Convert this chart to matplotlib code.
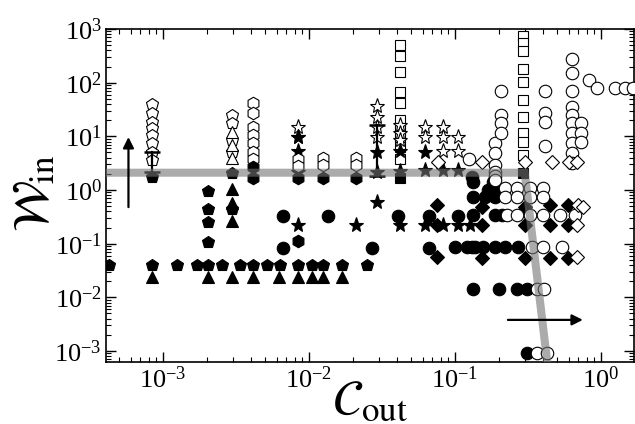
import matplotlib
matplotlib.use('Agg')
import matplotlib.pyplot as plt

plt.rcParams['font.family'] = 'serif'
plt.rcParams['font.serif'] = ['Liberation Serif', 'DejaVu Serif']
plt.rcParams['mathtext.fontset'] = 'stix'

# ---------------- data ----------------
# open pentagons
open_pent_x = [8.4e-4]*8 + [2.97e-3]*4
open_pent_y = [39.8, 27, 18.4, 14.2, 10.5, 7.5, 5.1, 3.6, 24.8, 17.6, 8.5, 5.1]
# filled pentagons
fill_pent_x = [8.4e-4, 2.03e-3, 2.03e-3, 2.03e-3, 2.03e-3, 2.97e-3, 2.97e-3,
               4.27e-4, 8.4e-4, 1.25e-3, 1.71e-3, 2.03e-3, 2.54e-3, 3.37e-3, 4.13e-3,
               5.15e-3, 6.32e-3, 8.4e-3, 1.05e-2, 1.25e-2, 1.68e-2, 2.49e-2]
fill_pent_y = [1.74, 0.96, 0.44, 0.25, 0.108, 0.44, 2.1,
               0.040, 0.040, 0.040, 0.040, 0.040, 0.040, 0.040, 0.040,
               0.040, 0.040, 0.040, 0.040, 0.040, 0.040, 0.040]
# open triangles
open_tri_x = [2.97e-3, 2.97e-3, 2.97e-3]
open_tri_y = [12, 6.9, 3.9]
# filled triangles
fill_tri_x = [2.97e-3, 2.97e-3, 2.97e-3,
              8.4e-4, 2.03e-3, 2.97e-3, 4.13e-3, 6.24e-3, 8.4e-3, 1.05e-2, 1.25e-2, 1.68e-2]
fill_tri_y = [1.04, 0.57, 0.265,
              0.024, 0.024, 0.024, 0.024, 0.024, 0.024, 0.024, 0.024, 0.024]
# open hexagons
open_hex_x = [4.13e-3]*7 + [8.4e-3]*2 + [1.25e-2]*2 + [2.1e-2]*2
open_hex_y = [41, 27, 14.8, 10.5, 7.5, 5.1, 3.8, 3.77, 2.8, 3.9, 2.9, 3.9, 2.9]
# filled hexagons
fill_hex_x = [4.13e-3, 4.13e-3, 8.4e-3, 1.25e-2, 2.1e-2, 8.4e-3]
fill_hex_y = [2.7, 1.67, 1.67, 1.67, 1.67, 0.113]
# open stars
open_star_x = [8.4e-3, 8.4e-3,
               2.92e-2, 2.92e-2, 2.92e-2, 2.92e-2,
               4.2e-2, 4.2e-2, 4.2e-2,
               6.24e-2, 6.24e-2,
               8.28e-2, 8.28e-2, 8.28e-2,
               0.105, 0.105]
open_star_y = [14.8, 9.7,
               36, 22.7, 14.8, 9.7,
               16.2, 11.5, 8.5,
               14.8, 9.7,
               14.8, 9.7, 5.3,
               9.7, 5.3]
# filled stars
fill_star_x = [8.4e-3, 8.4e-3, 8.4e-3, 2.92e-2, 2.92e-2, 2.92e-2, 4.2e-2, 4.2e-2,
               6.24e-2, 6.24e-2, 8.28e-2, 0.105,
               8.4e-3, 2.1e-2, 4.2e-2, 6.24e-2, 8.28e-2, 0.105, 0.127]
fill_star_y = [9.6, 5.3, 2.16, 5.1, 2.16, 0.6, 5.3, 2.25,
               5.1, 2.35, 2.35, 2.35,
               0.224, 0.224, 0.224, 0.224, 0.224, 0.224, 0.224]
# open squares
open_sq_x = [4.2e-2]*10 + [0.292]*10
open_sq_y = [496, 310, 156, 66, 41, 20, 14.2, 9.7, 6.3, 3.8,
             728, 540, 384, 177, 102, 47, 22.7, 11.5, 7.8, 4.47]
# filled squares
fill_sq_x = [4.2e-2, 0.292]
fill_sq_y = [1.67, 2.07]
# open diamonds
open_dia_x = [0.0766, 0.153, 0.301, 0.461, 0.604, 0.686, 0.695, 0.754, 0.686, 0.686]
open_dia_y = [3.31, 3.31, 3.31, 3.31, 3.31, 3.31, 0.526, 0.483, 0.224, 0.0569]
# filled diamonds
fill_dia_x = [0.0754, 0.0754, 0.0754, 0.153, 0.153, 0.153, 0.301, 0.301, 0.301,
              0.448, 0.448, 0.448, 0.594, 0.594, 0.594]
fill_dia_y = [0.526, 0.224, 0.0569, 0.483, 0.224, 0.0545, 0.483, 0.224, 0.0545,
              0.526, 0.224, 0.0545, 0.526, 0.224, 0.0545]
# filled circles
fill_circ_x = [6.64e-3, 6.64e-3, 0.0135, 0.027, 0.0407, 0.0664, 0.0664,
               0.131, 0.133, 0.168, 0.188, 0.133, 0.160, 0.188, 0.182,
               0.105, 0.133, 0.188, 0.210,
               0.100, 0.121, 0.131, 0.137, 0.156, 0.188, 0.220, 0.270,
               0.133, 0.200, 0.266, 0.311,
               0.311]
fill_circ_y = [0.329, 0.0836, 0.329, 0.0836, 0.329, 0.329, 0.0836,
               1.74, 1.41, 1.0, 1.14, 0.741, 0.741, 0.741, 1.41,
               0.329, 0.343, 0.343, 0.343,
               0.0872, 0.0872, 0.0872, 0.0872, 0.0872, 0.0872, 0.0872, 0.0872,
               0.0145, 0.0145, 0.0145, 0.0145,
               0.00093]
# open circles
open_circ_x = [0.125,
               0.188, 0.188, 0.188, 0.188, 0.188, 0.188,
               0.207, 0.207, 0.207, 0.207,
               0.220, 0.266, 0.327, 0.401, 0.220, 0.266, 0.327, 0.401,
               0.413, 0.413, 0.413, 0.413,
               0.632, 0.632, 0.632, 0.632, 0.632, 0.632, 0.632, 0.632, 0.632, 0.632,
               0.730, 0.730, 0.730,
               0.828, 0.940, 1.25, 1.46, 1.66,
               0.227, 0.266, 0.327, 0.401, 0.524, 0.664,
               0.337, 0.401, 0.541,
               0.365, 0.408,
               0.365, 0.427]
open_circ_y = [3.77,
               7.5, 4.87, 2.91, 2.16, 1.82, 1.53,
               69, 24.8, 17.6, 11.5,
               1.09, 1.09, 1.09, 1.09, 0.741, 0.741, 0.741, 0.741,
               69, 27, 18.4, 6.6,
               272, 150, 69, 34.9, 24.8, 17.6, 11.5, 7.5, 4.87, 3.18,
               17.6, 11.5, 7.8,
               111, 78.7, 78.7, 78.7, 78.7,
               0.343, 0.343, 0.343, 0.343, 0.343, 0.343,
               0.0872, 0.0872, 0.0872,
               0.0145, 0.0145,
               0.00093, 0.00093]
# error bars: x, lower end, upper end
err_x = [8.4e-4, 2.92e-2]
err_lo = [2.16, 1.82]
err_hi = [5.1, 16.2]
# grey threshold line
band_x = [3.0e-4, 0.30, 0.436]
band_y = [2.1, 2.1, 4.0e-4]
# arrows (start, end)
arrow_up = [(5.8e-4, 0.48), (5.8e-4, 9.7)]
arrow_right = [(0.23, 3.8e-3), (0.75, 3.8e-3)]
xticks = [1e-3, 1e-2, 1e-1, 1e0]
yticks = [1e-3, 1e-2, 1e-1, 1e0, 1e1, 1e2, 1e3]

# ---------------- figure ----------------
fig = plt.figure(figsize=(6.35, 4.24), dpi=100)
ax = fig.add_axes([106/635, 62/424, 528/635, 333/424])
ax.set_xscale('log')
ax.set_yscale('log')
ax.set_xlim(4.07e-4, 1.68)
ax.set_ylim(6.24e-4, 1e3)

mew = 0.8
def pts(x, y, m, filled, ms, z=3):
    ax.plot(x, y, ls='none', marker=m, ms=ms, mew=mew, mec='k',
            mfc='k' if filled else 'white', zorder=z, clip_on=True)

pts(open_sq_x, open_sq_y, 's', False, 7.5)
pts(open_star_x, open_star_y, '*', False, 11)
pts(fill_star_x, fill_star_y, '*', True, 11)
pts(open_hex_x, open_hex_y, 'h', False, 9)
pts(fill_hex_x, fill_hex_y, 'h', True, 9)
pts(open_pent_x, open_pent_y, 'p', False, 9)
pts(open_tri_x, open_tri_y, '^', False, 8)
pts(fill_pent_x, fill_pent_y, 'p', True, 9)
pts(fill_tri_x, fill_tri_y, '^', True, 8)
pts(fill_sq_x, fill_sq_y, 's', True, 7.5)
pts(fill_circ_x, fill_circ_y, 'o', True, 9)
pts(fill_dia_x, fill_dia_y, 'D', True, 7)
pts(open_circ_x, open_circ_y, 'o', False, 9)
pts(open_dia_x, open_dia_y, 'D', False, 7)

for x, lo, hi in zip(err_x, err_lo, err_hi):
    ax.plot([x, x], [lo, hi], color='k', lw=1.6, zorder=4)
    ax.plot([x, x], [lo, hi], ls='none', marker='_', ms=12, mew=1.8, color='k', zorder=4)

ax.plot(band_x, band_y, color='0.45', alpha=0.6, lw=5.8, solid_joinstyle='miter',
        solid_capstyle='butt', zorder=6)

for (s, e) in (arrow_up, arrow_right):
    ax.annotate('', xy=e, xytext=s,
                arrowprops=dict(arrowstyle='-|>', lw=1.6, color='k',
                                mutation_scale=16, shrinkA=0, shrinkB=0),
                zorder=7)

ax.set_xticks(xticks)
ax.set_yticks(yticks)
ax.tick_params(which='both', direction='in', top=True, right=True)
ax.tick_params(which='major', length=7, width=1.0, labelsize=19, pad=3)
ax.tick_params(which='minor', length=3.5, width=0.8)
for sp in ax.spines.values():
    sp.set_linewidth(1.2)

fig.text(370/635, 1 - 402/424, r'$\mathcal{C}_{\rm out}$', fontsize=36,
         ha='center', va='center')
fig.text(36/635, 1 - 193/424, r'$\mathcal{W}_{\rm in}$', fontsize=36,
         ha='center', va='center', rotation=90)

fig.savefig('out.png', dpi=100)
